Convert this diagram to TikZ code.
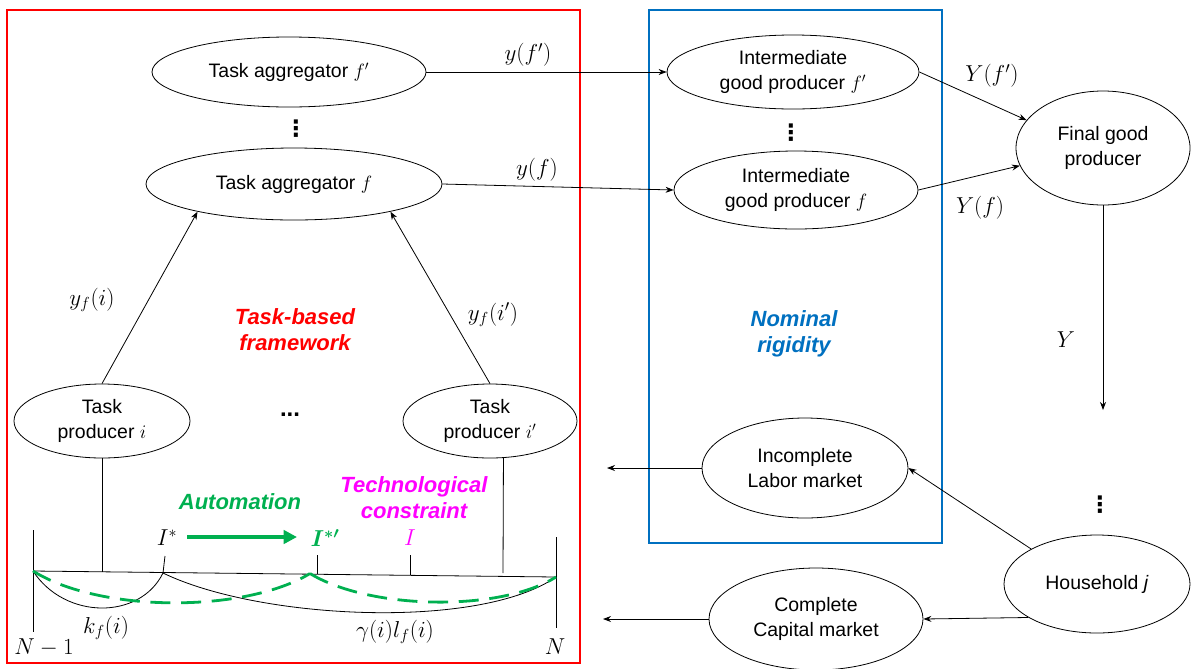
\documentclass[tikz,border=0pt]{standalone}
\usepackage[no-math]{fontspec}
\setmainfont{Liberation Sans}
\newfontfamily\dejavu{DejaVu Sans}
\usepackage{amsmath}
\usetikzlibrary{shapes.geometric,arrows.meta}
\definecolor{fred}{RGB}{255,0,0}
\definecolor{fblue}{RGB}{0,112,192}
\definecolor{fgreen}{RGB}{0,176,80}
\definecolor{fmag}{RGB}{255,0,255}
\begin{document}
\begin{tikzpicture}[x=0.75pt,y=-0.75pt,
  font=\fontsize{14.6}{19}\selectfont,
  >={Stealth[length=6pt,width=4.5pt]},
  ell/.style={ellipse, draw, line width=0.6pt, inner sep=0pt, align=center},
  conn/.style={->, line width=0.6pt},
  plain/.style={line width=0.6pt},
  ml/.style={font=\fontsize{17.5}{20}\selectfont, inner sep=0pt},
  bl/.style={font=\fontsize{16.5}{19.5}\selectfont\bfseries\itshape, align=center, inner sep=0pt},
  vd/.style={font=\dejavu\fontsize{17}{20}\selectfont\bfseries, inner sep=0pt},
  gdash/.style={fgreen, line width=2.1pt, dash pattern=on 15pt off 8pt},
]
\useasboundingbox (0,0) rectangle (1194,668);
% frames
\draw[fred, line width=2.2pt] (7,10) rectangle (580,663);
\draw[fblue, line width=2.2pt] (649,10) rectangle (942,543);

% nodes
\node[ell, minimum width=205.5pt, minimum height=52.5pt] (ta2) at (289,72) {Task aggregator $f'$};
\node[ell, minimum width=222pt, minimum height=54pt] (ta) at (294,184) {Task aggregator $f$};
\node[vd] (vd1) at (296,129) {⋮};
\node[ell, minimum width=189pt, minimum height=55.5pt] (ig2) at (793,72) {Intermediate\\good producer $f'$};
\node[ell, minimum width=183pt, minimum height=58.5pt] (ig) at (796,190) {Intermediate\\good producer $f$};
\node[vd] (vd2) at (791,133) {⋮};
\node[ell, minimum width=130.5pt, minimum height=85.5pt] (fg) at (1103,148) {Final good\\producer};
\node[ell, minimum width=139.5pt, minimum height=73.5pt] (hh) at (1097,584) {Household \textit{j}};
\node[vd] (vd3) at (1100,505) {⋮};
\node[ell, minimum width=154.5pt, minimum height=75pt] (ilm) at (805,468) {Incomplete\\Labor market};
\node[ell, minimum width=160.5pt, minimum height=76.5pt] (clm) at (816,619) {Complete\\Capital market};
\node[ell, minimum width=132pt, minimum height=55.5pt] (tp) at (102,421) {Task\\producer $i$};
\node[ell, minimum width=130.5pt, minimum height=55.5pt] (tp2) at (490,421) {Task\\producer $i'$};
\node[font=\fontsize{18}{20}\selectfont\bfseries, anchor=base] (dots) at (290,416) {...};

% coordinates for free ends
\coordinate (yend) at (1103,410);
\coordinate (lmL) at (607,468);
\coordinate (cmL) at (603,619);

% connectors
\draw[conn] (ta2.east) -- (ig2.west);
\draw[conn] (ta.east) -- (ig.west);
\draw[conn] (ig2.east) -- (fg.160);
\draw[conn] (ig.east) -- (fg.192);
\draw[conn] (fg.south) -- (yend);
\draw[conn] (hh.152) -- (ilm.east);
\draw[conn] (hh.206) -- (clm.east);
\draw[conn] (ilm.west) -- (lmL);
\draw[conn] (clm.west) -- (cmL);
\draw[conn] (tp.north) -- (ta.196);
\draw[conn] (tp2.north) -- (ta.344);

% labels
\node[ml] at (528,55) {$y(f')$};
\node[ml] at (537,170) {$y(f)$};
\node[ml] at (92,300) {$y_f(i)$};
\node[ml] at (493,315) {$y_f(i')$};
\node[ml] at (992,76) {$Y(f')$};
\node[ml] at (980,208) {$Y(f)$};
\node[ml] at (1066,340) {$Y$};
\node[bl, text=fred] at (295,330) {Task-based\\framework};
\node[bl, text=fblue] at (794,334) {Nominal\\rigidity};

% task axis
\coordinate (aL) at (33,571);
\coordinate (aR) at (556,577);
\coordinate (iS) at (163,573);
\coordinate (iS2) at (310,573.5);
\coordinate (aL1) at (33,530);
\coordinate (aL2) at (33,632);
\coordinate (aR1) at (556,537);
\coordinate (aR2) at (556,628);
\coordinate (tpB) at (102,571.6);
\coordinate (tp2B) at (503,573);
\coordinate (iSt) at (165,556);
\coordinate (iS2a) at (317,573.6);
\coordinate (iS2t) at (317,555);
\coordinate (iTa) at (410,574.5);
\coordinate (iTt) at (410,555);
\draw[plain] (aL) -- (aR);
\draw[plain] (aL1) -- (aL2);
\draw[plain] (aR1) -- (aR2);
\draw[plain] (tp.south) -- (tpB);
\draw[plain] (tp2.-70) -- (tp2B);
\draw[plain] (iS) -- (iSt);
\draw[plain] (iS2a) -- (iS2t);
\draw[plain] (iTa) -- (iTt);

% curves
\draw[plain] (aL) .. controls (65,620) and (140,620) .. (iS);
\draw[plain] (iS) .. controls (260,620) and (480,630) .. (aR);
\draw[gdash] (aL) .. controls (100,613) and (245,613) .. (iS2);
\draw[gdash] (iS2) .. controls (370,610) and (500,612) .. (aR);

% automation arrow
\coordinate (gA) at (187,537);
\coordinate (gB) at (297,537);
\draw[fgreen, line width=3pt, -{Triangle[length=10pt,width=10pt]}] (gA) -- (gB);

\node[ml] at (167,538) {$I^*$};
\node[ml, text=fgreen] at (325,538) {$\boldsymbol{I^{*\prime}}$};
\node[ml, text=fmag] at (410,538) {$I$};
\node[ml] at (106,628) {$k_f(i)$};
\node[ml] at (395,632) {$\gamma(i)l_f(i)$};
\node[ml, font=\fontsize{16.5}{20}\selectfont] at (44,648) {$N-1$};
\node[ml] at (555,647) {$N$};
\node[bl, text=fgreen] at (240,502) {Automation};
\node[bl, text=fmag] at (414,498) {Technological\\constraint};
\end{tikzpicture}
\end{document}
